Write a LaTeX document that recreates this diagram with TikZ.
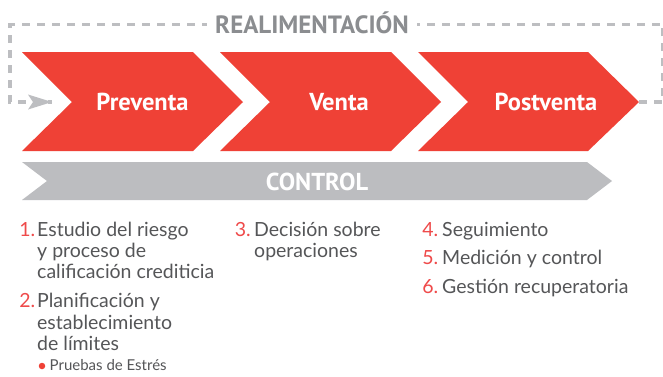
\documentclass[tikz,border=0pt]{standalone}
\usepackage{fontspec}
\setmainfont{Lato}
\newfontfamily\headfont{PT Sans}
\usetikzlibrary{arrows.meta}
\definecolor{chevRed}{HTML}{EF4136}
\definecolor{barGray}{HTML}{BCBDC0}
\definecolor{dashGray}{HTML}{BDBEC1}
\definecolor{titleGray}{HTML}{8B8D90}
\definecolor{bodyGray}{HTML}{555658}
\definecolor{numRed}{HTML}{EF4A4A}
\begin{document}
\begin{tikzpicture}[x=1pt,y=-1pt,
  chev/.style={fill=chevRed},
  ctrlbar/.style={fill=barGray},
  chevlabel/.style={font=\headfont\bfseries\fontsize{24.5}{25}\selectfont, text=white, inner sep=0pt},
  fb/.style={draw=dashGray, line width=3.5pt, dash pattern=on 8pt off 7pt},
  fbtitle/.style={font=\headfont\bfseries\fontsize{25}{25}\selectfont, text=titleGray, fill=white, inner xsep=8pt, inner ysep=2pt},
  numtxt/.style={font=\fontsize{19.5}{21}\selectfont, text=numRed, inner sep=0pt, anchor=base east},
  itemtxt/.style={font=\fontsize{19.5}{21}\selectfont, text=bodyGray, inner sep=0pt, anchor=base west},
  subtxt/.style={font=\fontsize{15}{16}\selectfont, text=bodyGray, inner sep=0pt, anchor=base west},
  dotmark/.style={circle, fill=chevRed, inner sep=0pt, minimum size=6.5pt}
]
\useasboundingbox (0,0) rectangle (663,376);
\fill[white] (0,0) rectangle (663,376);

% chevrons
\fill[chev] (22,52) -- (193,52) -- (243,102) -- (193,151) -- (22,151) -- (72,102) -- cycle;
\fill[chev] (220,52) -- (391,52) -- (441,102) -- (391,151) -- (220,151) -- (270,102) -- cycle;
\fill[chev] (418,52) -- (588,52) -- (639,102) -- (588,151) -- (418,151) -- (468,102) -- cycle;
\coordinate (postTip) at (639,102);
\coordinate (arrowTip) at (52,102);

\node[chevlabel] (pre) at (142.5,102) {Preventa};
\node[chevlabel] (ven) at (339,102) {Venta};
\node[chevlabel] (post) at (546,102) {Postventa};

% feedback
\coordinate (fbR) at (663,102);
\coordinate (fbTR) at (663,24.5);
\coordinate (fbTL) at (10,24.5);
\coordinate (fbL) at (10,102);
\draw[fb] (postTip) -- (fbR) -- (fbTR) -- (fbTL) -- (fbL)
  -- (arrowTip);
\fill[dashGray] (arrowTip) -- (28,94.5) -- (33,102) -- (28,109.5) -- cycle;
\node[fbtitle] (realim) at (312,22.5) {REALIMENTACIÓN};

% control bar
\fill[ctrlbar] (22,162) -- (587,162) -- (612,181) -- (587,200) -- (22,200) -- (47,181) -- cycle;
\node[chevlabel] (ctrl) at (317,182) {CONTROL};

% list column 1
\node[numtxt] (n1) at (35.5,236.7) {1.};
\node[itemtxt] (t1a) at (37,236.7) {Estudio del riesgo};
\node[itemtxt] (t1b) at (37,257.3) {y proceso de};
\node[itemtxt] (t1c) at (37,278) {calificación crediticia};
\node[numtxt] (n2) at (35.5,307.7) {2.};
\node[itemtxt] (t2a) at (37,307.7) {Planificación y};
\node[itemtxt] (t2b) at (37,329) {establecimiento};
\node[itemtxt] (t2c) at (37,350) {de límites};
\node[dotmark] (b1) at (42,366) {};
\node[subtxt] (s1) at (49.5,370.7) {Pruebas de Estrés};

% column 2
\node[numtxt] (n3) at (251,236.7) {3.};
\node[itemtxt] (t3a) at (254,236.7) {Decisión sobre};
\node[itemtxt] (t3b) at (254,257.3) {operaciones};

% column 3
\node[numtxt] (n4) at (438.5,236.7) {4.};
\node[itemtxt] (t4) at (442,236.7) {Seguimiento};
\node[numtxt] (n5) at (438.5,264.3) {5.};
\node[itemtxt] (t5) at (442,264.3) {Medición y control};
\node[numtxt] (n6) at (438.5,293.3) {6.};
\node[itemtxt] (t6) at (442,293.3) {Gestión recuperatoria};
\end{tikzpicture}
\end{document}
